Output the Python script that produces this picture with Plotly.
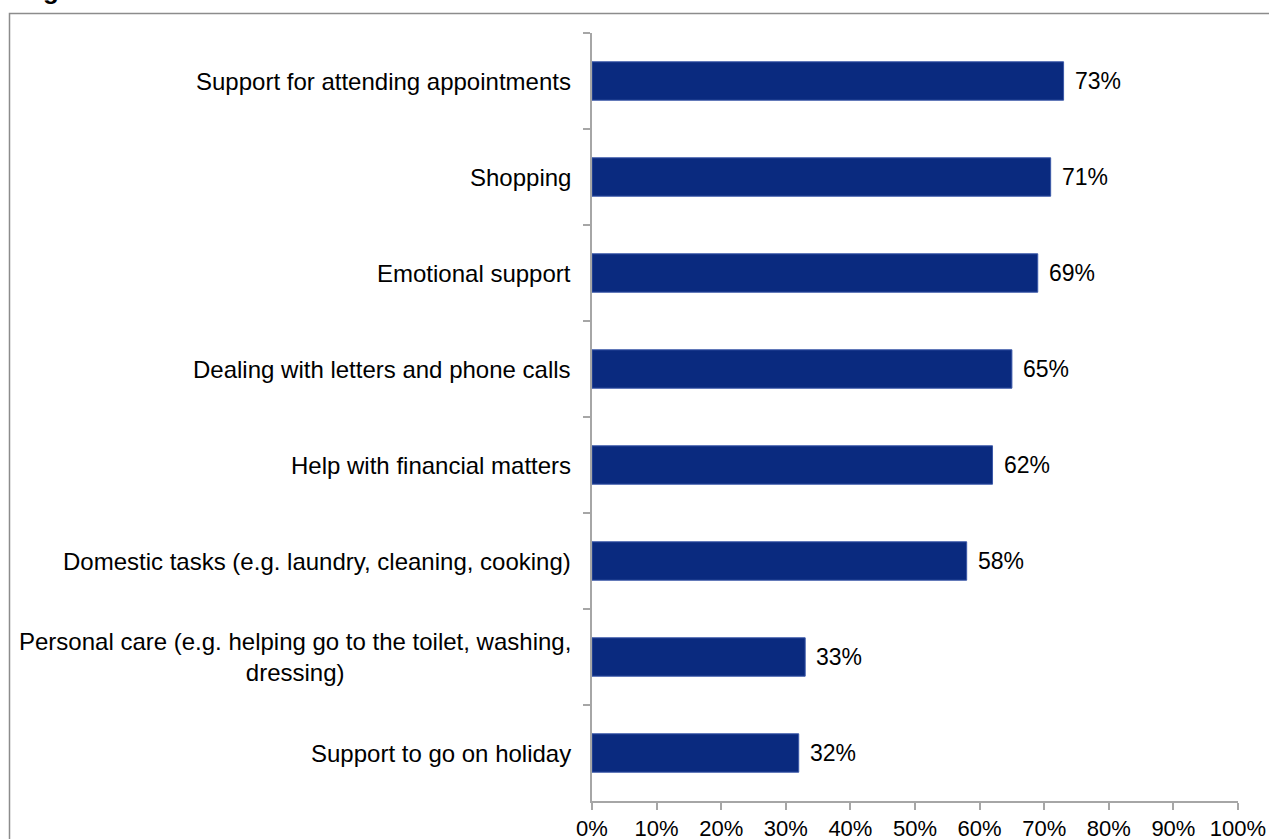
import plotly.graph_objects as go

# Forms of help provided (share of respondents)
categories = [
    "Support for attending appointments",
    "Shopping",
    "Emotional support",
    "Dealing with letters and phone calls",
    "Help with financial matters",
    "Domestic tasks (e.g. laundry, cleaning, cooking)",
    "Personal care (e.g. helping go to the toilet, washing,<br>dressing)",
    "Support to go on holiday",
]
values = [73, 71, 69, 65, 62, 58, 33, 32]
x_ticks = [0, 10, 20, 30, 40, 50, 60, 70, 80, 90, 100]
x_tick_labels = [f"{t}%" for t in x_ticks]

W, H = 1269, 839
ML, MR, MT, MB = 592, 31, 33, 38
PW, PH = W - ML - MR, H - MT - MB

FONT = "Arial, Liberation Sans, sans-serif"
BAR = "#0A2A7F"
AXIS = "#A6A6A6"


def px_x(p):
    return (p - ML) / PW


def px_y(p):
    return (H - MB - p) / PH


fig = go.Figure(
    go.Bar(
        x=values,
        y=categories,
        orientation="h",
        width=0.4,
        marker=dict(color=BAR, line=dict(color="#3A58A8", width=1)),
        hoverinfo="skip",
    )
)

annotations = []
# value labels just past the end of each bar
for c, v in zip(categories, values):
    annotations.append(dict(
        x=v, y=c, xref="x", yref="y", text=f"{v}%", showarrow=False,
        xanchor="left", yanchor="middle", xshift=9,
        font=dict(family=FONT, size=23, color="black"),
    ))
# category labels, centred line by line
for c in categories:
    annotations.append(dict(
        x=0, y=c, xref="paper", yref="y", text=c, showarrow=False,
        xanchor="right", yanchor="middle", xshift=-19, align="center",
        font=dict(family=FONT, size=24, color="black"),
    ))
# figure heading above the frame
annotations.append(dict(
    x=px_x(18), y=px_y(7), xref="paper", yref="paper",
    text="<b>Figure</b>", showarrow=False, xanchor="left", yanchor="bottom",
    font=dict(family=FONT, size=26, color="black"),
))

fig.update_layout(
    width=W, height=H,
    margin=dict(l=ML, r=MR, t=MT, b=MB, pad=0),
    paper_bgcolor="white", plot_bgcolor="white",
    showlegend=False,
    annotations=annotations,
    shapes=[dict(
        type="rect", xref="paper", yref="paper",
        x0=px_x(9.5), x1=px_x(1300), y0=px_y(900), y1=px_y(13.5),
        line=dict(color="#8C8C8C", width=1.5), fillcolor="rgba(0,0,0,0)",
        layer="below",
    )],
    xaxis=dict(
        range=[0, 100], tickvals=x_ticks, ticktext=x_tick_labels,
        automargin=False,
        showgrid=False, zeroline=False,
        showline=True, linecolor=AXIS, linewidth=1.5,
        ticks="outside", ticklen=7, tickcolor=AXIS, tickwidth=1.5,
        ticklabelstandoff=0,
        tickfont=dict(family=FONT, size=22, color="black"),
        fixedrange=True,
    ),
    yaxis=dict(
        autorange="reversed", automargin=False,
        showgrid=False, zeroline=False,
        showline=True, linecolor=AXIS, linewidth=1.5,
        ticks="outside", ticklen=7, tickcolor=AXIS, tickwidth=1.5,
        tickson="boundaries", showticklabels=False,
        fixedrange=True,
    ),
)

fig.write_html("out.html", config={"displayModeBar": False})
